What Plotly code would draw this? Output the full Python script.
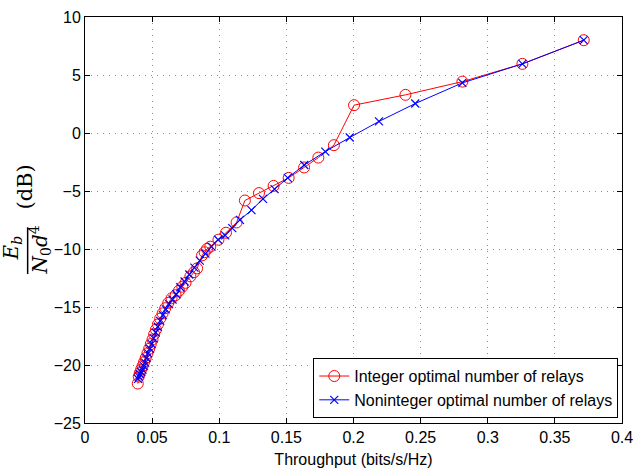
import plotly.graph_objects as go

# Throughput (bits/s/Hz) and energy Eb/(N0 d^4) in dB, integer optimal number of relays
int_throughput = [0.0393, 0.0400, 0.0408, 0.0418, 0.0428, 0.0440, 0.0452, 0.0465, 0.0478,
                  0.0490, 0.0503, 0.0515, 0.0528, 0.0543, 0.0560, 0.0578, 0.0598, 0.0620,
                  0.0645, 0.0675, 0.0700, 0.0725, 0.0749, 0.0785, 0.0812, 0.0835, 0.0872,
                  0.0891, 0.0909, 0.0933, 0.0994, 0.1050, 0.1129, 0.1191, 0.1296, 0.1405,
                  0.1517, 0.1632, 0.1738, 0.1854, 0.2004, 0.2387, 0.2811, 0.3258, 0.3715]
int_energy_db = [-21.6, -21.0, -20.7, -20.4, -20.1, -19.75, -19.4, -19.0, -18.6,
                 -18.2, -17.8, -17.35, -16.95, -16.5, -16.0, -15.55, -15.1, -14.65,
                 -14.25, -13.98, -13.6, -13.25, -12.92, -12.36, -12.0, -11.67, -10.55,
                 -10.28, -9.99, -9.80, -9.2, -8.6, -7.71, -5.82, -5.18, -4.56,
                 -3.87, -2.97, -2.12, -1.05, 2.40, 3.29, 4.43, 5.96, 8.0]

# Noninteger optimal number of relays
nonint_throughput = [0.0395, 0.0402, 0.0410, 0.0419, 0.0428, 0.0438, 0.0448, 0.0459, 0.0471,
                     0.0484, 0.0497, 0.0511, 0.0526, 0.0542, 0.0560, 0.0580, 0.0602, 0.0626,
                     0.0652, 0.0680, 0.0710, 0.0742, 0.0777, 0.0815, 0.0855, 0.0897, 0.0942,
                     0.0992, 0.1044, 0.1097, 0.1154, 0.1240, 0.1326, 0.1412, 0.1510, 0.1633,
                     0.1790, 0.1972, 0.2190, 0.2460, 0.2811, 0.3258, 0.3715]
nonint_energy_db = [-21.2, -21.0, -20.8, -20.6, -20.4, -20.1, -19.8, -19.4, -19.0,
                    -18.6, -18.2, -17.7, -17.2, -16.7, -16.2, -15.7, -15.2, -14.75,
                    -14.35, -13.9, -13.3, -12.8, -12.2, -11.6, -11.0, -10.4, -9.8,
                    -9.2, -8.82, -8.2, -7.49, -6.65, -5.68, -4.84, -3.87, -2.76,
                    -1.60, -0.39, 1.00, 2.54, 4.32, 5.96, 8.0]

x_ticks = [0, 0.05, 0.1, 0.15, 0.2, 0.25, 0.3, 0.35, 0.4]
x_tick_text = ["0", "0.05", "0.1", "0.15", "0.2", "0.25", "0.3", "0.35", "0.4"]
y_ticks = [-25, -20, -15, -10, -5, 0, 5, 10]
y_tick_text = ["\u221225", "\u221220", "\u221215", "\u221210", "\u22125", "0", "5", "10"]

FONT = "Liberation Sans, Arial, Helvetica, sans-serif"
SERIF = "DejaVu Serif, Liberation Serif, serif"

fig = go.Figure()
fig.add_trace(go.Scatter(
    x=int_throughput, y=int_energy_db, mode="lines+markers",
    name="Integer optimal number of relays",
    line=dict(color="#ff0000", width=1),
    marker=dict(symbol="circle-open", size=11, color="#ff0000", line=dict(width=1)),
))
fig.add_trace(go.Scatter(
    x=nonint_throughput, y=nonint_energy_db, mode="lines+markers",
    name="Noninteger optimal number of relays",
    line=dict(color="#0000ff", width=1),
    marker=dict(symbol="x-thin-open", size=8, color="#0000ff", line=dict(width=1.2, color="#0000ff")),
))

axis_common = dict(
    showline=True, linecolor="black", linewidth=1, mirror="ticks",
    ticks="inside", ticklen=5, tickcolor="black", tickwidth=1,
    showgrid=True, gridcolor="#8c8c8c", gridwidth=1, griddash="1px,5px",
    zeroline=False, tickfont=dict(family=FONT, size=16, color="black"),
)

fig.update_xaxes(range=[0, 0.4], tickvals=x_ticks, ticktext=x_tick_text,
                 title=dict(text="Throughput (bits/s/Hz)", font=dict(family=FONT, size=16, color="black"),
                            standoff=8),
                 **axis_common)
fig.update_yaxes(range=[-25, 10], tickvals=y_ticks, ticktext=y_tick_text, **axis_common)

# Y-axis label drawn as a rotated fraction: Eb / (N0 d^4) (dB)
fig.add_annotation(xref="paper", yref="paper", x=0, xshift=-60, y=0.58,
                   text="(dB)", textangle=-90, showarrow=False,
                   font=dict(family=SERIF, size=21, color="black"),
                   xanchor="center", yanchor="middle")
fig.add_annotation(xref="paper", yref="paper", x=0, xshift=-73, y=0.43,
                   text="<i>E</i><sub><i>b</i></sub>", textangle=-90, showarrow=False,
                   font=dict(family=SERIF, size=20, color="black"),
                   xanchor="center", yanchor="middle")
fig.add_annotation(xref="paper", yref="paper", x=0, xshift=-45, y=0.425,
                   text="<i>N</i><sub>0</sub><i>d</i><sup>4</sup>", textangle=-90, showarrow=False,
                   font=dict(family=SERIF, size=20, color="black"),
                   xanchor="center", yanchor="middle")
fig.add_shape(type="line", xref="paper", yref="paper",
              x0=-0.1068, x1=-0.1068, y0=0.367, y1=0.482,
              line=dict(color="black", width=1.5))

fig.update_layout(
    width=642, height=474,
    margin=dict(l=85, r=14, t=9, b=46),
    paper_bgcolor="white", plot_bgcolor="white",
    showlegend=True,
    legend=dict(x=0.993, y=0.012, xanchor="right", yanchor="bottom",
                bordercolor="black", borderwidth=1, bgcolor="white",
                font=dict(family=FONT, size=16, color="black"),
                tracegroupgap=0, itemwidth=30),
)

fig.write_html("out.html")
